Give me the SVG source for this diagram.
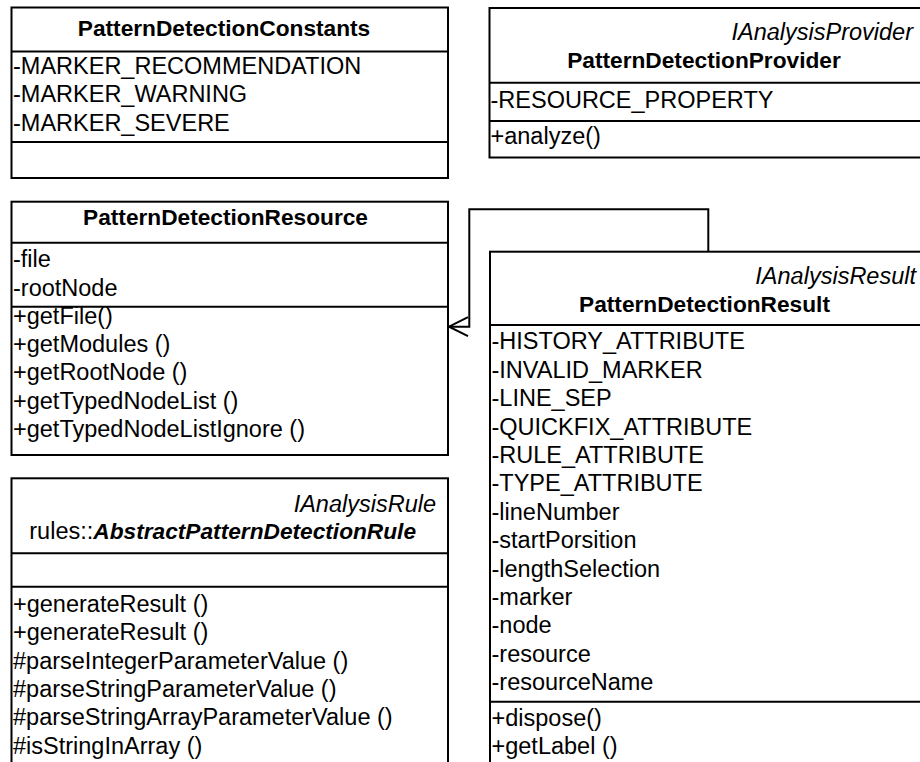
<svg xmlns="http://www.w3.org/2000/svg" width="920" height="762" viewBox="0 0 920 762">
  <defs>
    <marker id="openArrow" markerUnits="userSpaceOnUse" orient="auto" refX="0" refY="0" markerWidth="24" markerHeight="24" viewBox="-22 -12 24 24" overflow="visible">
      <path d="M -19,-9.5 L 0,0 L -19,9.5" fill="none" stroke="#000" stroke-width="2"/>
    </marker>
  </defs>
  <style>
    .box { fill: #fff; stroke: #000; stroke-width: 2; }
    .sep { stroke: #000; stroke-width: 2; fill: none; }
    text { font-family: "Liberation Sans", Arial, sans-serif; fill: #000; }
    .t { font-size: 22.7px; font-weight: bold; text-anchor: middle; }
    .m { font-size: 23.5px; }
    .st { font-size: 23.5px; font-style: italic; text-anchor: end; }
    .bi { font-weight: bold; font-style: italic; font-size: 22.7px; }
    .conn { fill: none; stroke: #000; stroke-width: 2; }
  </style>
  <rect width="920" height="762" fill="#fff"/>

  <!-- PatternDetectionConstants -->
  <g id="PatternDetectionConstants">
    <rect class="box" x="11.5" y="7.5" width="436.5" height="170.5"/>
    <line class="sep" x1="11.5" y1="51.5" x2="448" y2="51.5"/>
    <line class="sep" x1="11.5" y1="142" x2="448" y2="142"/>
    <text class="t" x="224" y="36">PatternDetectionConstants</text>
    <text class="m" x="13" y="74">-MARKER_RECOMMENDATION</text>
    <text class="m" x="13" y="102.4">-MARKER_WARNING</text>
    <text class="m" x="13" y="130.8">-MARKER_SEVERE</text>
  </g>

  <!-- PatternDetectionProvider -->
  <g id="PatternDetectionProvider">
    <rect class="box" x="489.5" y="8" width="440" height="149.5"/>
    <line class="sep" x1="489.5" y1="82.7" x2="930" y2="82.7"/>
    <line class="sep" x1="489.5" y1="121" x2="930" y2="121"/>
    <text class="st" x="913" y="40">IAnalysisProvider</text>
    <text class="t" x="704" y="68.3">PatternDetectionProvider</text>
    <text class="m" x="490.5" y="108.3">-RESOURCE_PROPERTY</text>
    <text class="m" x="490.5" y="143.5">+analyze()</text>
  </g>

  <!-- PatternDetectionResource -->
  <g id="PatternDetectionResource">
    <rect class="box" x="11.5" y="201.7" width="436.5" height="253.3"/>
    <line class="sep" x1="11.5" y1="242.7" x2="448" y2="242.7"/>
    <line class="sep" x1="11.5" y1="306.7" x2="448" y2="306.7"/>
    <text class="t" x="225.5" y="225">PatternDetectionResource</text>
    <text class="m" x="13" y="267.3">-file</text>
    <text class="m" x="13" y="295.7">-rootNode</text>
    <text class="m" x="13" y="324">+getFile()</text>
    <text class="m" x="13" y="352.2">+getModules ()</text>
    <text class="m" x="13" y="380.4">+getRootNode ()</text>
    <text class="m" x="13" y="408.6">+getTypedNodeList ()</text>
    <text class="m" x="13" y="436.8">+getTypedNodeListIgnore ()</text>
  </g>

  <!-- AbstractPatternDetectionRule -->
  <g id="AbstractPatternDetectionRule">
    <rect class="box" x="11.5" y="478.3" width="436.5" height="300"/>
    <line class="sep" x1="11.5" y1="553.3" x2="448" y2="553.3"/>
    <line class="sep" x1="11.5" y1="586.7" x2="448" y2="586.7"/>
    <text class="st" x="436" y="511.7">IAnalysisRule</text>
    <text x="29.3" y="539"><tspan class="m">rules::</tspan><tspan class="bi">AbstractPatternDetectionRule</tspan></text>
    <text class="m" x="13" y="611.7">+generateResult ()</text>
    <text class="m" x="13" y="640.1">+generateResult ()</text>
    <text class="m" x="13" y="668.5">#parseIntegerParameterValue  ()</text>
    <text class="m" x="13" y="696.9">#parseStringParameterValue  ()</text>
    <text class="m" x="13" y="725.3">#parseStringArrayParameterValue  ()</text>
    <text class="m" x="13" y="753.7">#isStringInArray ()</text>
  </g>

  <!-- PatternDetectionResult -->
  <g id="PatternDetectionResult">
    <rect class="box" x="490" y="251.7" width="440" height="530"/>
    <line class="sep" x1="490" y1="325" x2="930" y2="325"/>
    <line class="sep" x1="490" y1="701.7" x2="930" y2="701.7"/>
    <text class="st" x="916" y="284">IAnalysisResult</text>
    <text class="t" x="704.5" y="311.7">PatternDetectionResult</text>
    <text class="m" x="491.5" y="349.3">-HISTORY_ATTRIBUTE</text>
    <text class="m" x="491.5" y="377.7">-INVALID_MARKER</text>
    <text class="m" x="491.5" y="406.1">-LINE_SEP</text>
    <text class="m" x="491.5" y="434.5">-QUICKFIX_ATTRIBUTE</text>
    <text class="m" x="491.5" y="462.9">-RULE_ATTRIBUTE</text>
    <text class="m" x="491.5" y="491.3">-TYPE_ATTRIBUTE</text>
    <text class="m" x="491.5" y="519.7">-lineNumber</text>
    <text class="m" x="491.5" y="548.1">-startPorsition</text>
    <text class="m" x="491.5" y="576.5">-lengthSelection</text>
    <text class="m" x="491.5" y="604.9">-marker</text>
    <text class="m" x="491.5" y="633.3">-node</text>
    <text class="m" x="491.5" y="661.7">-resource</text>
    <text class="m" x="491.5" y="690.1">-resourceName</text>
    <text class="m" x="491.5" y="726">+dispose()</text>
    <text class="m" x="491.5" y="754">+getLabel ()</text>
  </g>

  <!-- Connectors -->
  <g id="connectors">
    <path class="conn" d="M 708.3,251.7 V 209.3 H 469.3 V 326.7 H 449" marker-end="url(#openArrow)"/>
  </g>
</svg>
